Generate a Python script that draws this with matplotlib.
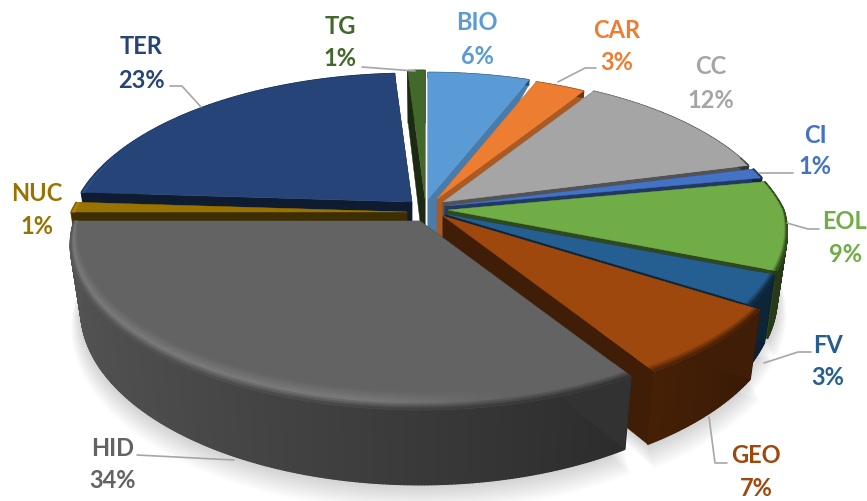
import numpy as np
import matplotlib
matplotlib.use("Agg")
import matplotlib.pyplot as plt
from matplotlib.collections import PolyCollection
from matplotlib.colors import to_rgb

categories = ["BIO", "CAR", "CC", "CI", "EOL", "FV", "GEO", "HID", "NUC", "TER", "TG"]
shares = [6, 3, 12, 1, 9, 3, 7, 34, 1, 23, 1]
colors = ["#5B9BD5", "#ED7D31", "#A5A5A5", "#4472C4", "#70AD47", "#255E91",
          "#9E480E", "#636363", "#997300", "#264478", "#43682B"]

# Position of each exploded slice's tip, outer radius factor, and radial wall shade
tips = {"BIO": (428, 200), "CAR": (437, 200), "CC": (443, 203), "CI": (445, 207),
        "EOL": (448, 211), "FV": (445, 215), "GEO": (443, 217), "HID": (420, 222),
        "NUC": (407, 213), "TER": (412, 203), "TG": (425, 200)}
radius = {"BIO": 0.98, "CAR": 0.96, "CC": 0.99, "HID": 1.03, "GEO": 1.03}
side_shade = {"BIO": .8, "CAR": .72, "CC": .5, "CI": .5, "EOL": .42, "FV": .38,
              "GEO": .4, "HID": .5, "NUC": .4, "TER": .4, "TG": .4}
# Far slices show only a sliver of wall at the rim
rim_depth = {"BIO": 0.1, "CAR": 0.12, "CC": 0.15}
draw_order = ["TER", "TG", "BIO", "CAR", "CC", "CI", "EOL", "NUC", "FV", "GEO", "HID"]

label_pos = {"BIO": (477, 23, 56), "CAR": (617, 31, 63), "CC": (711, 66, 100),
             "CI": (815, 136, 167), "EOL": (845, 222, 254), "FV": (828, 346, 378),
             "GEO": (756, 456, 489), "HID": (113, 449, 481), "NUC": (37, 194, 227),
             "TER": (141, 47, 80), "TG": (340, 26, 59)}
leaders = [[(170, 87), (182, 87), (201, 108)],
           [(362, 68), (415, 72)],
           [(558, 83), (585, 69), (596, 69)],
           [(759, 174), (793, 174)],
           [(787, 224), (808, 230), (819, 230)],
           [(764, 364), (798, 353), (811, 353)],
           [(709, 418), (715, 464), (727, 464)],
           [(137, 456), (234, 461)]]

# Perspective disc parameters: the far half foreshortens more than the near half
AX, BY, PERSP_BACK, PERSP_FRONT, DEPTH, TAPER = 336.0, 157.0, 0.22, 0.14, 64.0, 0.03


def project(theta, r, tip, z=0.0):
    theta = np.asarray(theta, dtype=float)
    u, v = r * np.sin(theta), r * np.cos(theta)
    d = 1 + np.where(v > 0, PERSP_BACK, PERSP_FRONT) * v
    x = tip[0] + AX * u / d * (1 - TAPER * z)
    y = tip[1] - BY * v / d + z * DEPTH / d
    return np.column_stack([x, y])


def wall_factor(theta):
    return 0.58 - 0.26 * np.sin(theta)


def highlight(theta):
    s = np.clip((-np.sin(theta) + 0.3) / 0.5, 0, 1)
    return 0.24 * s * s * (3 - 2 * s)


def radial_face(a, R, tip, zw, color, zorder):
    top_o = project(a, R, tip)[0]
    bot_o = project(a, R, tip, zw)[0]
    bot_i = (tip[0], tip[1] + DEPTH)
    ax.fill([tip[0], top_o[0], bot_o[0], bot_i[0]],
            [tip[1], top_o[1], bot_o[1], bot_i[1]],
            color=color, lw=0.3, zorder=zorder)


fig = plt.figure(figsize=(8.67, 5.02), dpi=100)
ax = fig.add_axes([0, 0, 1, 1])
ax.set_xlim(0, 867)
ax.set_ylim(502, 0)
ax.axis("off")

edges = np.radians(np.cumsum([0] + shares) * 3.6)
spans = {c: (edges[i], edges[i + 1]) for i, c in enumerate(categories)}
rgb = {c: np.array(to_rgb(col)) for c, col in zip(categories, colors)}

# Soft shadow under the front of the pie
for e in np.linspace(0.0, 1.0, 12):
    for c in ["EOL", "FV", "GEO", "HID"]:
        a0, a1 = spans[c]
        t = np.linspace(a0, a1, 90)
        r = radius.get(c, 1.0) * (1.0 + 0.035 * e)
        pts = project(t, r, tips[c], 1.0 + 0.24 * e)
        pts = np.vstack([[tips[c][0], tips[c][1] + 70], pts])
        ax.fill(pts[:, 0], pts[:, 1], color="#000000", alpha=0.016, lw=0, zorder=1)

z = 10
for c in draw_order:
    a0, a1 = spans[c]
    tip, R, base = tips[c], radius.get(c, 1.0), rgb[c]
    zw = rim_depth.get(c, 1.0)
    t = np.linspace(a0, a1, max(8, int(np.degrees(a1 - a0) * 2)))

    # Closing cut face sits behind the curved wall
    radial_face(a1, R, tip, zw, base * side_shade[c], z)
    z += 1

    # Outer curved wall, shaded along the arc
    top = project(t, R, tip)
    bot = project(t, R, tip, zw)
    quads, cols = [], []
    for i in range(len(t) - 1):
        quads.append([top[i], top[i + 1], bot[i + 1], bot[i]])
        cols.append(np.clip(base * wall_factor(0.5 * (t[i] + t[i + 1])), 0, 1))
    ax.add_collection(PolyCollection(quads, facecolors=cols, edgecolors=cols,
                                     linewidths=1.0, zorder=z))
    z += 1

    # Opening cut face goes over the wall
    radial_face(a0, R, tip, zw, base * side_shade[c], z)
    z += 1

    # Top face
    pts = np.vstack([[tip], top])
    ax.fill(pts[:, 0], pts[:, 1], color=base, lw=0.3, zorder=z)
    z += 1

    # Rounded rim on the faces turned toward the viewer
    quads, cols = [], []
    steps = 9
    for i in range(len(t) - 1):
        mid = 0.5 * (t[i] + t[i + 1])
        if np.cos(mid) > 0.3:
            continue
        w = 0.012 + 0.075 * max(0.0, -np.cos(mid))
        wall = base * wall_factor(mid)
        peak = np.clip(base * (1 + highlight(mid)), 0, 1)
        for j in range(steps):
            f0, f1 = j / steps, (j + 1) / steps
            r0, r1 = R * (1 - w * (1 - f0)), R * (1 - w * (1 - f1))
            p = project(t[i:i + 2], r0, tip)
            q = project(t[i:i + 2], r1, tip)
            quads.append([p[0], p[1], q[1], q[0]])
            fm = 0.5 * (f0 + f1)
            if fm < 0.6:
                col = base + (peak - base) * (fm / 0.6)
            else:
                col = peak + (wall - peak) * ((fm - 0.6) / 0.4)
            cols.append(np.clip(col, 0, 1))
    if quads:
        ax.add_collection(PolyCollection(quads, facecolors=cols, edgecolors=cols,
                                         linewidths=0.4, zorder=z))
    z += 1

# Leader lines
for path in leaders:
    xs, ys = zip(*path)
    ax.plot(xs, ys, color="#A6A6A6", lw=1.2, zorder=z, solid_capstyle="round")

# Category and percentage labels
z += 1
for c, share, col in zip(categories, shares, colors):
    x, y1, y2 = label_pos[c]
    ax.text(x, y1, c, color=col, ha="center", va="center", family="Lato",
            weight="bold", fontsize=17, zorder=z)
    ax.text(x, y2, f"{share}%", color=col, ha="center", va="center", family="Lato",
            weight="bold", fontsize=17, zorder=z)

fig.savefig("out.png", dpi=100)
